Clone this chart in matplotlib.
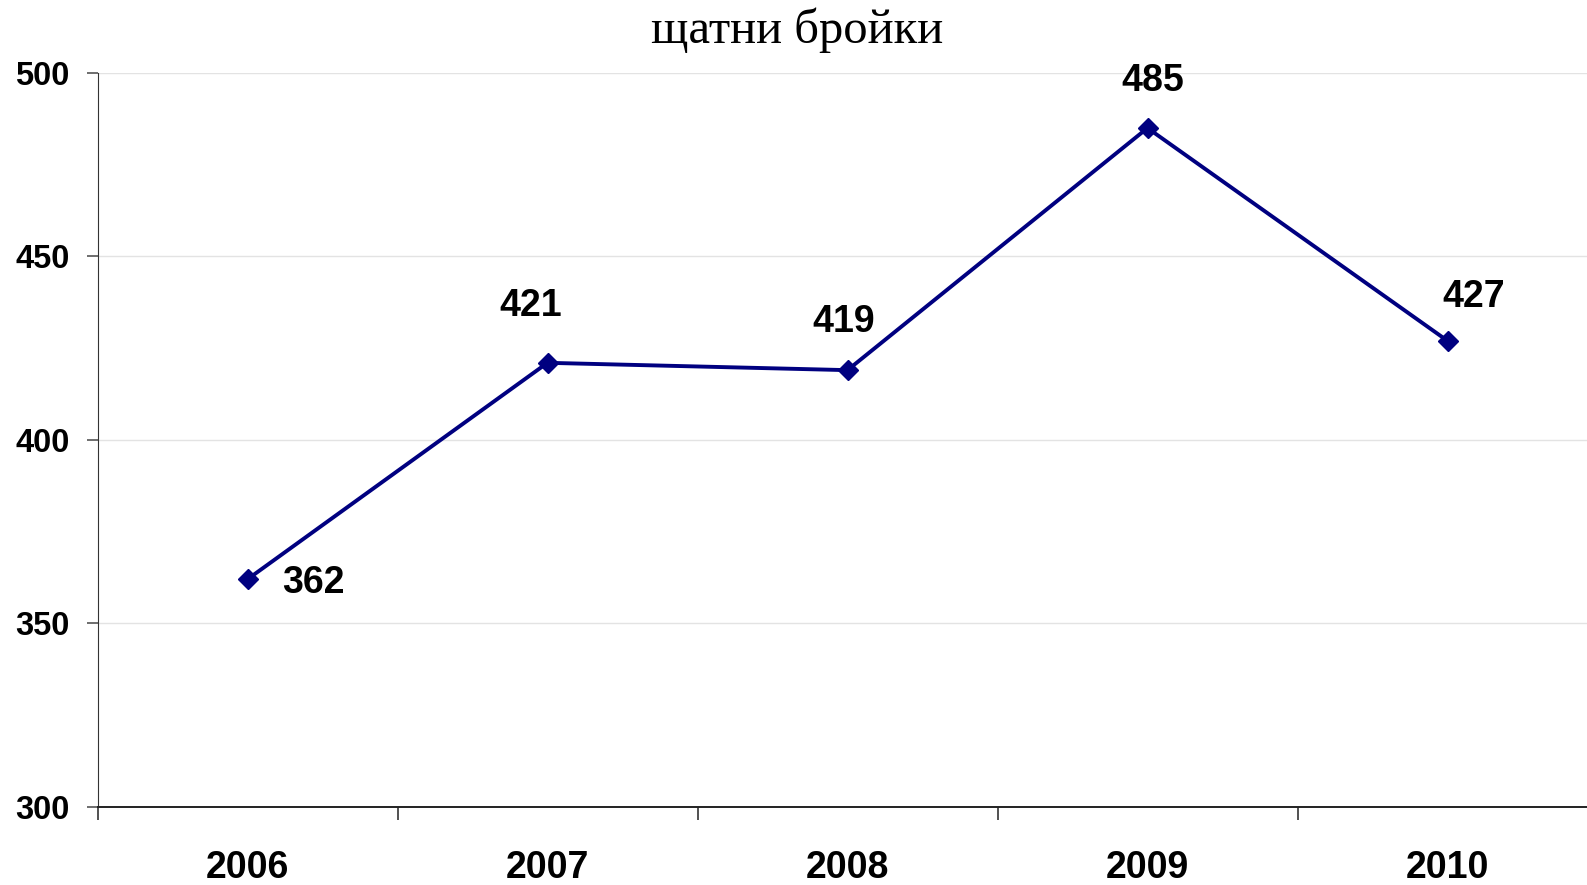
import numpy as np
import matplotlib.pyplot as plt
from matplotlib.ticker import FixedLocator

# --- Data ---
years = ['2006', '2007', '2008', '2009', '2010']
staff = [362, 421, 419, 485, 427]
# label offsets in pixels (dx, dy) relative to each point
label_offsets = [(66, -4), (-17, 57), (-4, 48), (5, 47), (26, 44)]

# --- Figure ---
fig = plt.figure(figsize=(15.87, 8.85), dpi=100)
ax = fig.add_axes([97.5 / 1587, 1 - 806.7 / 885, 1500 / 1587, (806.7 - 73) / 885])

x = np.arange(len(years))
ax.plot(x, staff, color='#000080', linewidth=2.8, marker='D', markersize=10.5,
        markerfacecolor='#000080', markeredgecolor='#000080', zorder=3)

for xi, v, (dx, dy) in zip(x, staff, label_offsets):
    ax.annotate(str(v), (xi, v), xytext=(dx, dy), textcoords='offset pixels',
                ha='center', va='center', fontsize=27, fontweight='bold',
                family='Liberation Sans')

ax.set_xlim(-0.5, len(years) - 0.5)
ax.set_ylim(300, 500)
ax.set_yticks(np.arange(300, 501, 50))
ax.yaxis.grid(True, color='#e3e3e3', linewidth=1)
ax.set_axisbelow(True)

# category boundary ticks (major) and centred labels (minor)
ax.xaxis.set_major_locator(FixedLocator(np.arange(-0.5, len(years), 1.0)))
ax.set_xticklabels([])
ax.xaxis.set_minor_locator(FixedLocator(x))
ax.set_xticklabels(years, minor=True)
ax.tick_params(axis='x', which='major', direction='out', length=9, width=1.2, color='#333333')
ax.tick_params(axis='x', which='minor', length=0, pad=31, labelsize=27)
ax.tick_params(axis='y', direction='out', length=8, width=1.2, color='#555555', pad=12, labelsize=23.5)
for lab in ax.get_xticklabels(minor=True) + ax.get_yticklabels():
    lab.set_fontweight('bold')
    lab.set_family('Liberation Sans')

for s in ['top', 'right']:
    ax.spines[s].set_visible(False)
ax.spines['left'].set_color('#333333')
ax.spines['bottom'].set_color('#222222')
ax.spines['bottom'].set_linewidth(1.4)

fig.text(797 / 1587, 1 - 30 / 885, 'щатни бройки', ha='center', va='center',
         fontsize=35, family='Liberation Serif')

fig.savefig('out.png', dpi=100)
